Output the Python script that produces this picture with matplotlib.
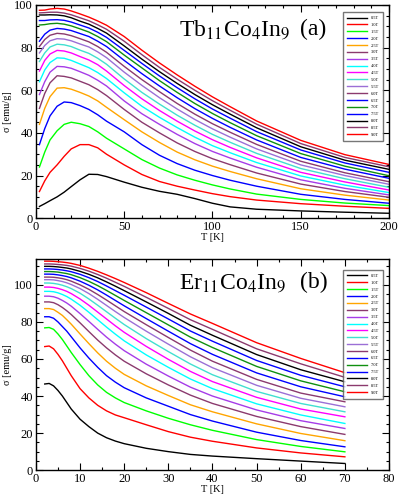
import matplotlib
matplotlib.use("Agg")
import matplotlib.pyplot as plt
from matplotlib.ticker import MultipleLocator

plt.rcParams['font.family'] = ['Liberation Serif', 'DejaVu Serif']
plt.rcParams['mathtext.fontset'] = 'stix'

# field labels (same for both panels)
fields = ['0.5T', '1.0T', '1.5T', '2.0T', '2.5T', '3.0T', '3.5T', '4.0T', '4.5T',
          '5.0T', '5.5T', '6.0T', '6.5T', '7.0T', '7.5T', '8.0T', '8.5T', '9.0T']
colors = ['#000000', '#ff0000', '#00ff00', '#0000ff', '#ffa500', '#8b3a6e', '#a63ce8',
          '#00ffff', '#ff00ff', '#40e0d0', '#9b6fd6', '#8b3a6e', '#0000ff', '#109010',
          '#0000ff', '#000000', '#8b3a6e', '#ff0000']

# (a) Tb11Co4In9, temperature grid [K]
tb_T = [2, 5, 8, 12, 16, 20, 25, 30, 35, 40, 50, 60, 70, 80, 90, 100, 110, 125, 150, 175, 200]
tb_0p5 = [5.5, 6.8, 8.2, 10.0, 12.2, 14.8, 18.0, 20.6, 20.5, 19.5, 16.9, 14.5, 12.6, 11.2, 9.2, 7.0, 5.3, 4.2, 3.4, 2.8, 2.3]
tb_1p0 = [12.5, 17.5, 21.5, 25.0, 29.0, 32.5, 34.5, 34.5, 33.0, 30.0, 25.0, 20.5, 17.2, 15.0, 13.2, 11.5, 10.1, 8.5, 6.8, 5.6, 4.6]
tb_1p5 = [24.0, 31.0, 36.7, 41.0, 44.0, 45.0, 44.3, 43.0, 40.5, 37.5, 32.5, 27.5, 23.5, 20.3, 17.8, 15.6, 13.7, 11.3, 8.8, 7.1, 5.9]
tb_2p0 = [34.5, 42.0, 48.0, 52.5, 54.5, 54.2, 52.8, 51.0, 48.5, 45.5, 40.5, 34.5, 29.5, 25.6, 22.5, 20.0, 17.8, 15.0, 11.2, 8.8, 7.0]
tb_2p5 = [44.0, 51.5, 57.0, 61.0, 61.2, 60.5, 59.0, 57.3, 55.0, 52.0, 46.2, 40.5, 35.5, 31.0, 27.4, 24.4, 21.9, 18.5, 13.8, 10.8, 8.5]
tb_3p0 = [51.5, 58.5, 63.5, 66.8, 66.5, 65.8, 64.2, 62.6, 60.3, 57.5, 51.0, 45.0, 40.0, 35.3, 31.3, 27.9, 25.1, 21.2, 16.0, 12.5, 9.8]
tb_3p5 = [58.0, 64.0, 68.5, 71.2, 71.0, 70.3, 68.7, 67.0, 64.7, 62.0, 55.0, 49.0, 44.0, 39.3, 35.0, 31.3, 28.2, 23.9, 18.0, 14.0, 10.9]
tb_4p0 = [64.0, 69.5, 73.0, 75.2, 75.0, 74.0, 72.3, 70.6, 68.3, 65.5, 58.8, 52.5, 47.3, 42.5, 38.0, 34.0, 30.7, 26.1, 19.8, 15.5, 12.0]
tb_4p5 = [69.0, 74.0, 77.0, 78.7, 78.4, 77.5, 75.8, 74.2, 72.0, 69.0, 62.2, 56.0, 50.5, 45.5, 40.9, 36.8, 33.2, 28.3, 21.5, 17.0, 13.2]
tb_5p0 = [73.5, 77.5, 80.3, 81.6, 81.3, 80.5, 78.8, 77.3, 75.0, 72.2, 65.3, 59.0, 53.5, 48.3, 43.6, 39.3, 35.6, 30.4, 23.3, 18.5, 14.5]
tb_5p5 = [77.5, 81.0, 83.2, 84.2, 84.0, 83.2, 81.7, 80.3, 78.0, 75.3, 68.5, 62.3, 56.5, 51.2, 46.3, 41.9, 38.0, 32.5, 25.0, 20.0, 15.9]
tb_6p0 = [80.5, 83.8, 85.8, 86.7, 86.4, 85.6, 84.2, 82.7, 80.5, 77.8, 71.2, 65.0, 59.3, 53.8, 48.8, 44.3, 40.3, 34.6, 26.7, 21.3, 17.1]
tb_6p5 = [83.0, 86.3, 88.2, 89.0, 88.7, 88.0, 86.6, 85.2, 83.0, 80.5, 74.0, 67.8, 62.0, 56.5, 51.4, 46.8, 42.6, 36.7, 28.5, 23.0, 18.7]
tb_7p0 = [90.6, 90.8, 91.2, 91.4, 91.0, 90.2, 88.8, 87.3, 85.2, 82.8, 76.5, 70.5, 64.5, 59.0, 53.8, 49.1, 44.8, 38.7, 30.3, 24.4, 19.9]
tb_7p5 = [92.7, 92.7, 93.0, 93.1, 92.8, 92.0, 90.6, 89.2, 87.2, 84.8, 78.7, 72.6, 66.7, 61.2, 56.0, 51.2, 46.9, 40.6, 32.0, 25.9, 21.5]
tb_8p0 = [95.3, 95.3, 95.4, 95.3, 94.9, 94.0, 92.4, 91.0, 89.0, 86.8, 80.8, 74.6, 68.7, 63.2, 58.0, 53.2, 48.8, 42.4, 33.5, 27.2, 22.9]
tb_8p5 = [96.3, 96.4, 96.6, 96.6, 96.2, 95.4, 94.0, 92.6, 90.7, 88.6, 83.0, 76.7, 70.7, 65.2, 60.0, 55.1, 50.6, 44.1, 35.0, 28.5, 24.1]
tb_9p0 = [97.5, 97.6, 98.1, 98.4, 98.1, 97.2, 95.8, 94.3, 92.5, 90.5, 85.2, 78.8, 72.8, 67.2, 61.9, 56.9, 52.3, 45.6, 36.5, 29.8, 25.2]

# (b) Er11Co4In9
er_T = [2, 3, 4, 5, 6, 7, 8, 10, 12, 14, 16, 18, 20, 25, 30, 35, 40, 50, 60, 70]
er_0p5 = [46.5, 46.8, 45.5, 43.0, 40.0, 36.5, 33.0, 27.5, 23.5, 20.0, 17.5, 15.7, 14.3, 11.8, 10.0, 8.5, 7.6, 6.2, 4.9, 3.6]
er_1p0 = [66.7, 67.0, 65.5, 62.5, 59.0, 55.0, 51.0, 44.0, 39.0, 35.0, 32.0, 29.8, 28.3, 24.5, 20.8, 17.8, 15.6, 12.0, 9.3, 7.2]
er_1p5 = [76.8, 77.0, 76.0, 73.5, 70.5, 67.0, 63.5, 57.0, 51.0, 46.0, 42.0, 39.0, 36.5, 32.0, 28.0, 24.5, 21.5, 16.5, 12.8, 9.9]
er_2p0 = [82.8, 82.8, 82.0, 80.0, 77.5, 75.0, 72.0, 66.0, 60.5, 55.5, 51.0, 47.5, 44.5, 39.0, 34.5, 30.0, 26.5, 20.5, 16.0, 12.6]
er_2p5 = [87.2, 87.2, 86.7, 85.2, 83.5, 81.2, 78.8, 73.5, 68.3, 63.3, 58.8, 55.0, 51.7, 45.5, 40.3, 35.3, 31.5, 25.0, 19.8, 15.9]
er_3p0 = [90.8, 90.8, 90.4, 89.3, 87.8, 86.0, 84.0, 79.5, 74.8, 70.2, 66.0, 62.2, 58.8, 52.0, 46.0, 40.5, 36.0, 29.0, 23.5, 19.3]
er_3p5 = [93.9, 93.9, 93.6, 92.8, 91.6, 90.2, 88.5, 84.5, 80.3, 76.0, 71.8, 68.0, 64.5, 57.2, 50.8, 44.8, 40.0, 32.5, 26.7, 22.5]
er_4p0 = [96.5, 96.5, 96.3, 95.7, 94.8, 93.7, 92.3, 89.0, 85.2, 81.2, 77.2, 73.4, 69.8, 62.2, 55.5, 49.2, 44.0, 35.8, 29.8, 25.2]
er_4p5 = [98.8, 98.8, 98.6, 98.1, 97.4, 96.5, 95.3, 92.4, 89.0, 85.3, 81.6, 77.9, 74.4, 66.8, 59.8, 53.3, 47.8, 39.3, 33.0, 28.8]
er_5p0 = [101.0, 101.0, 100.8, 100.4, 99.8, 99.0, 98.0, 95.5, 92.4, 89.0, 85.5, 82.0, 78.6, 71.0, 64.0, 57.3, 51.5, 42.5, 36.0, 31.5]
er_5p5 = [102.8, 102.8, 102.7, 102.3, 101.8, 101.1, 100.2, 98.0, 95.3, 92.2, 88.9, 85.6, 82.4, 75.0, 68.0, 61.2, 55.3, 45.8, 38.8, 34.2]
er_6p0 = [104.2, 104.2, 104.1, 103.8, 103.4, 102.8, 102.0, 100.0, 97.6, 94.8, 91.8, 88.7, 85.6, 78.5, 71.6, 64.8, 58.8, 49.0, 41.6, 36.9]
er_6p5 = [105.8, 105.8, 105.7, 105.4, 105.0, 104.5, 103.8, 102.0, 99.8, 97.3, 94.5, 91.6, 88.7, 81.8, 75.0, 68.3, 62.5, 52.5, 45.0, 39.6]
er_7p0 = [107.2, 107.2, 107.1, 106.9, 106.5, 106.1, 105.5, 103.9, 101.9, 99.6, 97.0, 94.3, 91.6, 85.0, 78.4, 71.8, 66.2, 56.0, 48.2, 42.3]
er_7p5 = [108.6, 108.6, 108.5, 108.3, 108.0, 107.6, 107.1, 105.7, 103.9, 101.8, 99.4, 96.9, 94.4, 88.0, 81.6, 75.1, 69.6, 59.2, 51.2, 45.0]
er_8p0 = [110.0, 110.0, 109.9, 109.7, 109.4, 109.1, 108.6, 107.3, 105.7, 103.8, 101.6, 99.3, 96.9, 90.8, 84.6, 78.2, 72.8, 62.4, 54.2, 47.7]
er_8p5 = [111.3, 111.3, 111.2, 111.0, 110.8, 110.5, 110.1, 108.9, 107.4, 105.6, 103.6, 101.4, 99.2, 93.3, 87.3, 81.2, 76.0, 65.5, 57.4, 50.1]
er_9p0 = [112.8, 112.8, 112.7, 112.5, 112.3, 112.0, 111.6, 110.5, 109.0, 107.3, 105.4, 103.4, 101.3, 95.8, 90.0, 84.3, 79.2, 68.8, 60.3, 52.6]

tb_curves = [tb_0p5, tb_1p0, tb_1p5, tb_2p0, tb_2p5, tb_3p0, tb_3p5, tb_4p0, tb_4p5,
             tb_5p0, tb_5p5, tb_6p0, tb_6p5, tb_7p0, tb_7p5, tb_8p0, tb_8p5, tb_9p0]
er_curves = [er_0p5, er_1p0, er_1p5, er_2p0, er_2p5, er_3p0, er_3p5, er_4p0, er_4p5,
             er_5p0, er_5p5, er_6p0, er_6p5, er_7p0, er_7p5, er_8p0, er_8p5, er_9p0]

fig = plt.figure(figsize=(3.99, 4.97), dpi=100)
ax1 = fig.add_axes([0.090, 0.561, 0.885, 0.429])
ax2 = fig.add_axes([0.090, 0.054, 0.885, 0.425])

def style(ax, xmaj, xmin, ymaj, ymin):
    ax.xaxis.set_major_locator(MultipleLocator(xmaj))
    ax.xaxis.set_minor_locator(MultipleLocator(xmin))
    ax.yaxis.set_major_locator(MultipleLocator(ymaj))
    ax.yaxis.set_minor_locator(MultipleLocator(ymin))
    ax.tick_params(which='both', direction='in', top=True, right=True, labelsize=9, width=0.8, pad=2)
    ax.tick_params(which='major', length=5)
    ax.tick_params(which='minor', length=2.5)
    for s in ax.spines.values():
        s.set_linewidth(1.0)

for T_list, curves, ax in [(tb_T, tb_curves, ax1), (er_T, er_curves, ax2)]:
    for vals, c, lab in zip(curves, colors, fields):
        ax.plot(T_list, vals, color=c, lw=1.0, label=lab)

ax1.set_xlim(0, 200)
ax1.set_ylim(0, 100)
style(ax1, 50, 10, 20, 5)
ax2.set_xlim(0, 80)
ax2.set_ylim(0, 114)
style(ax2, 10, 5, 20, 5)

for ax in (ax1, ax2):
    ax.set_xlabel('T [K]', fontsize=7.5, labelpad=0)
    ax.set_ylabel('σ [emu/g]', fontsize=7.5, labelpad=2)

ax1.text(0.405, 0.86, r'Tb$_{11}$Co$_{4}$In$_{9}$', transform=ax1.transAxes, fontsize=17)
ax1.text(0.748, 0.86, '(a)', transform=ax1.transAxes, fontsize=17)
ax2.text(0.405, 0.86, r'Er$_{11}$Co$_{4}$In$_{9}$', transform=ax2.transAxes, fontsize=17)
ax2.text(0.748, 0.86, '(b)', transform=ax2.transAxes, fontsize=17)

leg_kw = dict(loc='upper right', fontsize=3.2, frameon=True, fancybox=False,
              handlelength=4.5, handletextpad=0.8, labelspacing=0.62, borderpad=0.9,
              borderaxespad=0)
lg1 = ax1.legend(bbox_to_anchor=(0.983, 0.967), **leg_kw)
lg2 = ax2.legend(bbox_to_anchor=(0.983, 0.948), **leg_kw)
for lg in (lg1, lg2):
    lg.get_frame().set_edgecolor('#555555')
    lg.get_frame().set_linewidth(1.0)

fig.savefig('out.png', dpi=100)
